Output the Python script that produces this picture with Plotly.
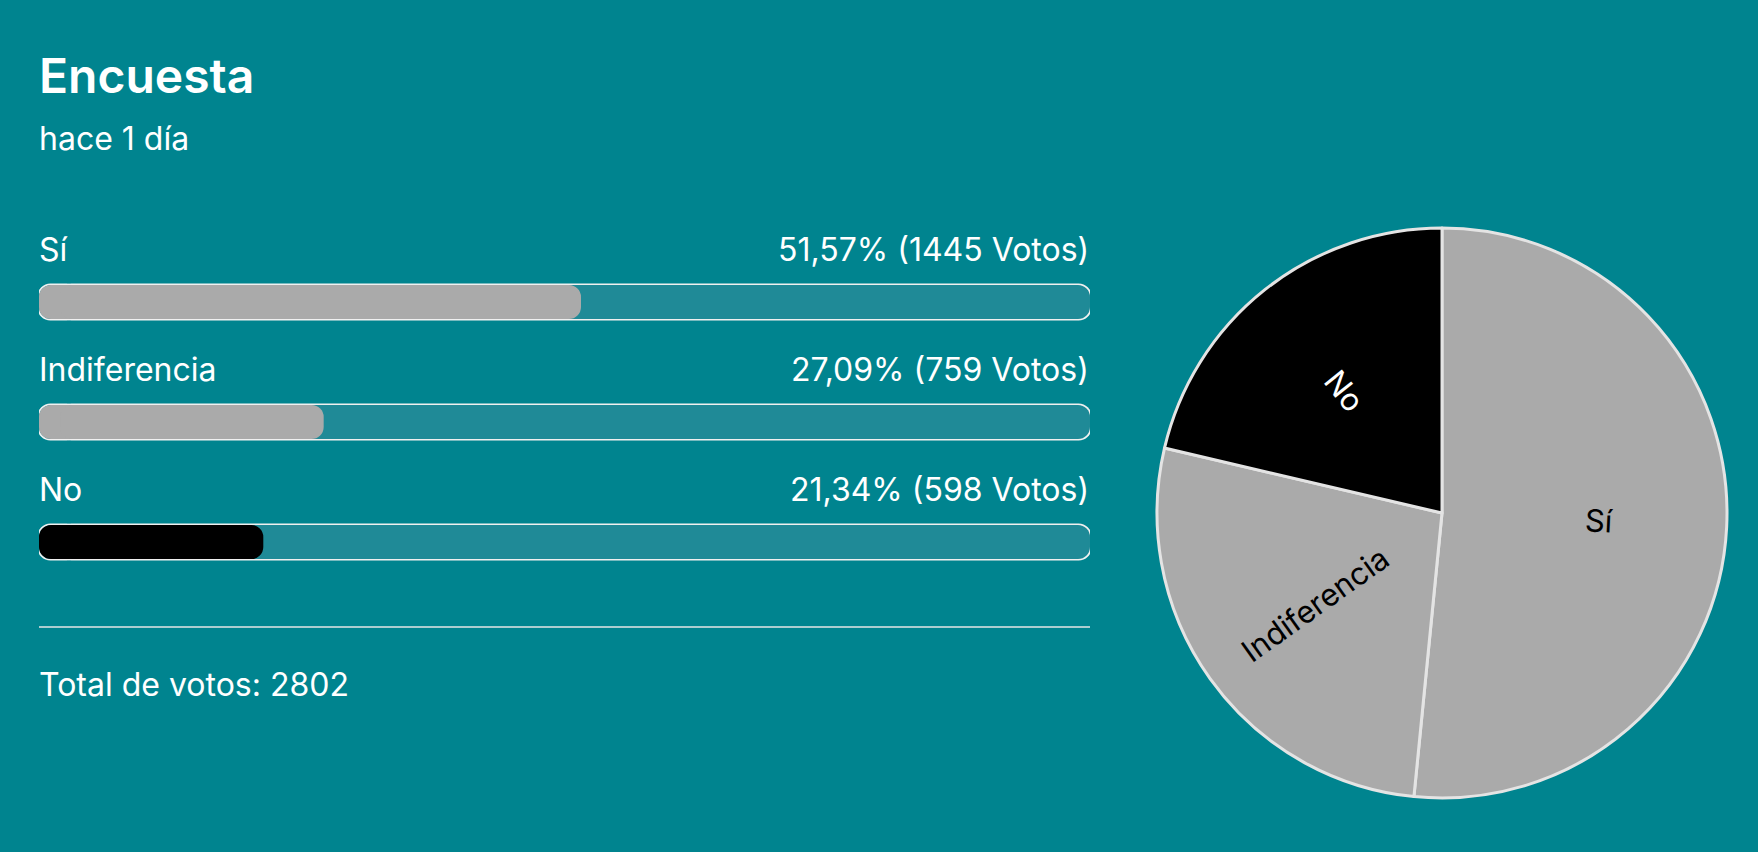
import math

import plotly.graph_objects as go

# poll data
options = ["Sí", "Indiferencia", "No"]
votes = [1445, 759, 598]
fill_colors = ["#aaaaaa", "#aaaaaa", "#000000"]
pie_text_colors = ["#000000", "#000000", "#ffffff"]

title = "Encuesta"
subtitle = "hace 1 día"

BG = "#00848f"
TRACK = "#1f8a97"
W, H = 1758, 852
FONT = "Inter"

total = sum(votes)
pcts = [v / total * 100 for v in votes]
rows = list(range(len(options)))
n = len(options)

# pie placement (pixels)
PIE_CX, PIE_CY, PIE_R = 1442, 513, 285


def px_y(py):
    return 1 - py / H


def pill_trace(starts, ends, width, colors, radius):
    # plotly only rounds the far end of a bar: a short bar growing to the left
    # gives the rounded start, a long one growing to the right the rounded end
    base, x, y, c = [], [], [], []
    for i, (s, e) in enumerate(zip(starts, ends)):
        cap = min(4.0, (e - s) / 2)
        base += [s + cap, s + cap / 2]
        x += [-cap, e - (s + cap / 2)]
        y += [rows[i], rows[i]]
        c += [colors[i], colors[i]]
    return go.Bar(
        x=x, y=y, base=base, orientation="h", width=width,
        marker=dict(color=c, line=dict(width=0), cornerradius=radius),
        cliponaxis=False, hoverinfo="skip", showlegend=False,
    )


# white outline, track, filled part
fig = go.Figure()
fig.add_trace(pill_trace([-0.15] * n, [100.15] * n, 0.31, ["#f0f0f0"] * n, 13))
fig.add_trace(pill_trace([0] * n, [100] * n, 0.285, [TRACK] * n, 12))
fig.add_trace(pill_trace([0] * n, pcts, 0.285, fill_colors, 12))

fig.add_trace(go.Pie(
    labels=options,
    values=votes,
    sort=False,
    direction="clockwise",
    rotation=0,
    textinfo="none",
    marker=dict(colors=fill_colors, line=dict(color="#e4e4e4", width=3)),
    domain=dict(x=[(PIE_CX - PIE_R) / W, (PIE_CX + PIE_R) / W],
                y=[px_y(PIE_CY + PIE_R), px_y(PIE_CY - PIE_R)]),
    showlegend=False,
))

annotations = [
    dict(text=title, xref="paper", yref="paper", x=37 / W, y=px_y(75),
         xanchor="left", yanchor="middle", showarrow=False,
         font=dict(family=FONT, size=48, color="white", weight=600)),
    dict(text=subtitle, xref="paper", yref="paper", x=37 / W, y=px_y(139),
         xanchor="left", yanchor="middle", showarrow=False,
         font=dict(family=FONT, size=32, color="white")),
    dict(text=f"Total de votos: {total}", xref="paper", yref="paper", x=37 / W, y=px_y(684),
         xanchor="left", yanchor="middle", showarrow=False,
         font=dict(family=FONT, size=32, color="white")),
]

for i, (name, v, p) in enumerate(zip(options, votes, pcts)):
    annotations.append(dict(
        text=name, x=0, y=i, xref="x", yref="y", xanchor="left", yanchor="middle",
        xshift=-2, yshift=53, showarrow=False, font=dict(family=FONT, size=32, color="white"),
    ))
    annotations.append(dict(
        text=f"{p:.2f}".replace(".", ",") + f"% ({v} Votos)",
        x=100, y=i, xref="x", yref="y", xanchor="right", yanchor="middle",
        xshift=1, yshift=53, showarrow=False, font=dict(family=FONT, size=32, color="white"),
    ))

# slice labels, radial, at the middle angle of each slice
acc = 0
for name, v, col in zip(options, votes, pie_text_colors):
    mid = (acc + v / 2) / total * 360
    acc += v
    t = math.radians(mid)
    ang = mid - 90
    while ang > 90:
        ang -= 180
    while ang < -90:
        ang += 180
    annotations.append(dict(
        text=name, xref="paper", yref="paper",
        x=(PIE_CX + 0.55 * PIE_R * math.sin(t)) / W,
        y=px_y(PIE_CY - 0.55 * PIE_R * math.cos(t)),
        xanchor="center", yanchor="middle", textangle=ang, showarrow=False,
        font=dict(family=FONT, size=31, color=col),
    ))

fig.update_layout(
    width=W,
    height=H,
    margin=dict(l=0, r=0, t=0, b=0),
    paper_bgcolor=BG,
    plot_bgcolor=BG,
    barmode="overlay",
    font=dict(family=FONT, color="white"),
    xaxis=dict(domain=[39 / W, 1090 / W], range=[0, 100], visible=False, fixedrange=True),
    yaxis=dict(domain=[px_y(602), px_y(242)], range=[2.5, -0.5], visible=False, fixedrange=True),
    annotations=annotations,
    shapes=[dict(type="line", xref="x", yref="paper", x0=0, x1=100,
                 y0=px_y(627), y1=px_y(627), line=dict(color="#e6e6e6", width=1.5))],
)

fig.write_html(
    "out.html",
    config={"displayModeBar": False},
    post_script="document.body.style.margin='0';document.body.style.overflow='hidden';",
)
